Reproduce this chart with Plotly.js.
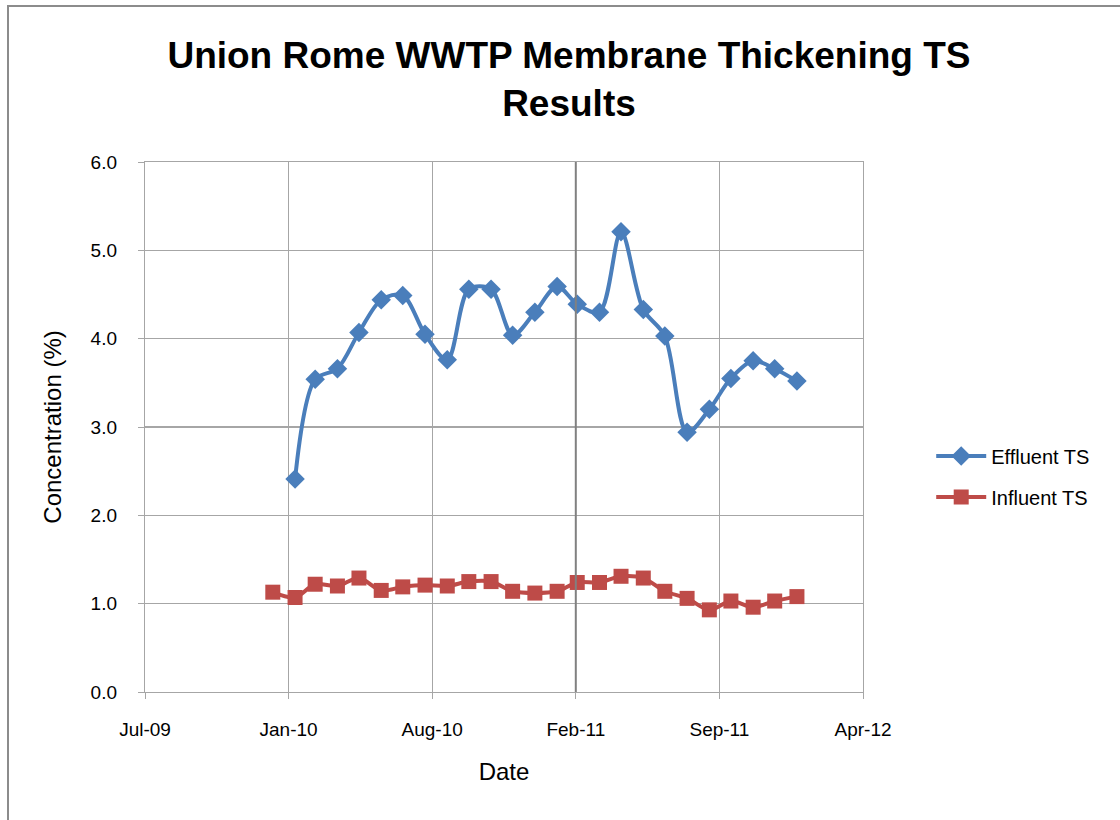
<!DOCTYPE html>
<html>
<head>
<meta charset="utf-8">
<script src="https://cdn.plot.ly/plotly-3.0.1.min.js"></script>
<style>html,body{margin:0;padding:0;background:#fff;}#chart{width:1120px;height:820px;}</style>
</head>
<body>
<div id="chart"></div>
<script>
// Data
const effluentDates = [
  "2010-01-31","2010-02-28","2010-03-31","2010-04-30","2010-05-31","2010-06-30",
  "2010-07-31","2010-08-31","2010-09-30","2010-10-31","2010-11-30","2010-12-31",
  "2011-01-31","2011-02-28","2011-03-31","2011-04-30","2011-05-31","2011-06-30",
  "2011-07-31","2011-08-31","2011-09-30","2011-10-31","2011-11-30","2011-12-31"
];
const effluentTS = [2.41, 3.54, 3.66, 4.07, 4.44, 4.49, 4.05, 3.76, 4.56, 4.56, 4.04, 4.30,
                    4.59, 4.39, 4.30, 5.21, 4.33, 4.03, 2.94, 3.20, 3.55, 3.75, 3.66, 3.52];
const influentDates = [
  "2009-12-31",
  "2010-01-31","2010-02-28","2010-03-31","2010-04-30","2010-05-31","2010-06-30",
  "2010-07-31","2010-08-31","2010-09-30","2010-10-31","2010-11-30","2010-12-31",
  "2011-01-31","2011-02-28","2011-03-31","2011-04-30","2011-05-31","2011-06-30",
  "2011-07-31","2011-08-31","2011-09-30","2011-10-31","2011-11-30","2011-12-31"
];
const influentTS = [1.13, 1.07, 1.22, 1.20, 1.29, 1.15, 1.19, 1.21, 1.20, 1.25, 1.25, 1.14,
                    1.12, 1.14, 1.24, 1.24, 1.31, 1.29, 1.14, 1.06, 0.93, 1.03, 0.96, 1.03, 1.08];
const xTickVals = ["2009-07-06","2010-01-22","2010-08-10","2011-02-26","2011-09-14","2012-04-01"];
const xTickText = ["Jul-09","Jan-10","Aug-10","Feb-11","Sep-11","Apr-12"];
const yTickVals = [0, 1, 2, 3, 4, 5, 6];

const traces = [
  {
    x: effluentDates, y: effluentTS, name: "Effluent TS", type: "scatter", mode: "lines+markers",
    legendgroup: "eff",
    line: {color: "#4a7ebb", width: 4, shape: "spline", smoothing: 0.9},
    marker: {symbol: "diamond", size: 15, color: "#4a7ebb"}
  },
  {
    x: influentDates, y: influentTS, name: "Influent TS", type: "scatter", mode: "lines+markers",
    legendgroup: "inf",
    line: {color: "#be4b48", width: 4, shape: "spline", smoothing: 0.9},
    marker: {symbol: "square", size: 15, color: "#be4b48"}
  }
];

const gridCol = "#a6a6a6";
const layout = {
  width: 1120, height: 820,
  margin: {l: 145, r: 257, t: 162, b: 128, pad: 0},
  paper_bgcolor: "#ffffff", plot_bgcolor: "#ffffff",
  font: {family: "Liberation Sans, Arial, sans-serif", color: "#000"},
  title: {
    text: "<b>Union Rome WWTP Membrane Thickening TS<br>Results</b>",
    font: {family: "Liberation Sans, Arial, sans-serif", size: 37, color: "#000"},
    x: 0.508, xref: "container", xanchor: "center",
    y: 1 - 68/820, yref: "container", yanchor: "top"
  },
  xaxis: {
    type: "date",
    range: ["2009-07-06", "2012-04-01"],
    tickmode: "array", tickvals: xTickVals, ticktext: xTickText,
    showgrid: true, gridcolor: gridCol, gridwidth: 1.2,
    showline: true, linecolor: gridCol, linewidth: 1.2, mirror: true,
    ticks: "outside", ticklen: 6, tickcolor: gridCol,
    ticklabelstandoff: 14,
    tickfont: {size: 19, family: "Liberation Sans, Arial, sans-serif"},
    title: {text: "Date", font: {size: 24}, standoff: 24},
    zeroline: false, fixedrange: true
  },
  yaxis: {
    range: [0, 6], tickmode: "array", tickvals: yTickVals, tickformat: ".1f",
    showgrid: true, gridcolor: gridCol, gridwidth: 1.2,
    showline: true, linecolor: gridCol, linewidth: 1.2, mirror: true,
    ticks: "outside", ticklen: 6, tickcolor: gridCol,
    ticklabelstandoff: 17,
    tickfont: {size: 19, family: "Liberation Sans, Arial, sans-serif"},
    title: {text: "Concentration (%)", font: {size: 24}, standoff: 22},
    zeroline: false, fixedrange: true
  },
  legend: {
    x: 1.095, xanchor: "left", y: 0.482, yanchor: "top",
    font: {size: 20, family: "Liberation Sans, Arial, sans-serif"},
    bgcolor: "rgba(0,0,0,0)", itemwidth: 50, tracegroupgap: 12
  },
  shapes: [
    {type: "line", xref: "x", yref: "paper", x0: "2011-02-26", x1: "2011-02-26", y0: 0, y1: 1,
     line: {color: "#808080", width: 2}},
    {type: "rect", xref: "paper", yref: "paper",
     x0: (8 - 145) / 718, x1: (1130 - 145) / 718, y0: (692 - 830) / 530, y1: (692 - 6) / 530,
     line: {color: "#8c8c8c", width: 2}, fillcolor: "rgba(0,0,0,0)", layer: "below"}
  ],
  showlegend: true
};

Plotly.newPlot("chart", traces, layout, {displayModeBar: false, staticPlot: true});
</script>
</body>
</html>
